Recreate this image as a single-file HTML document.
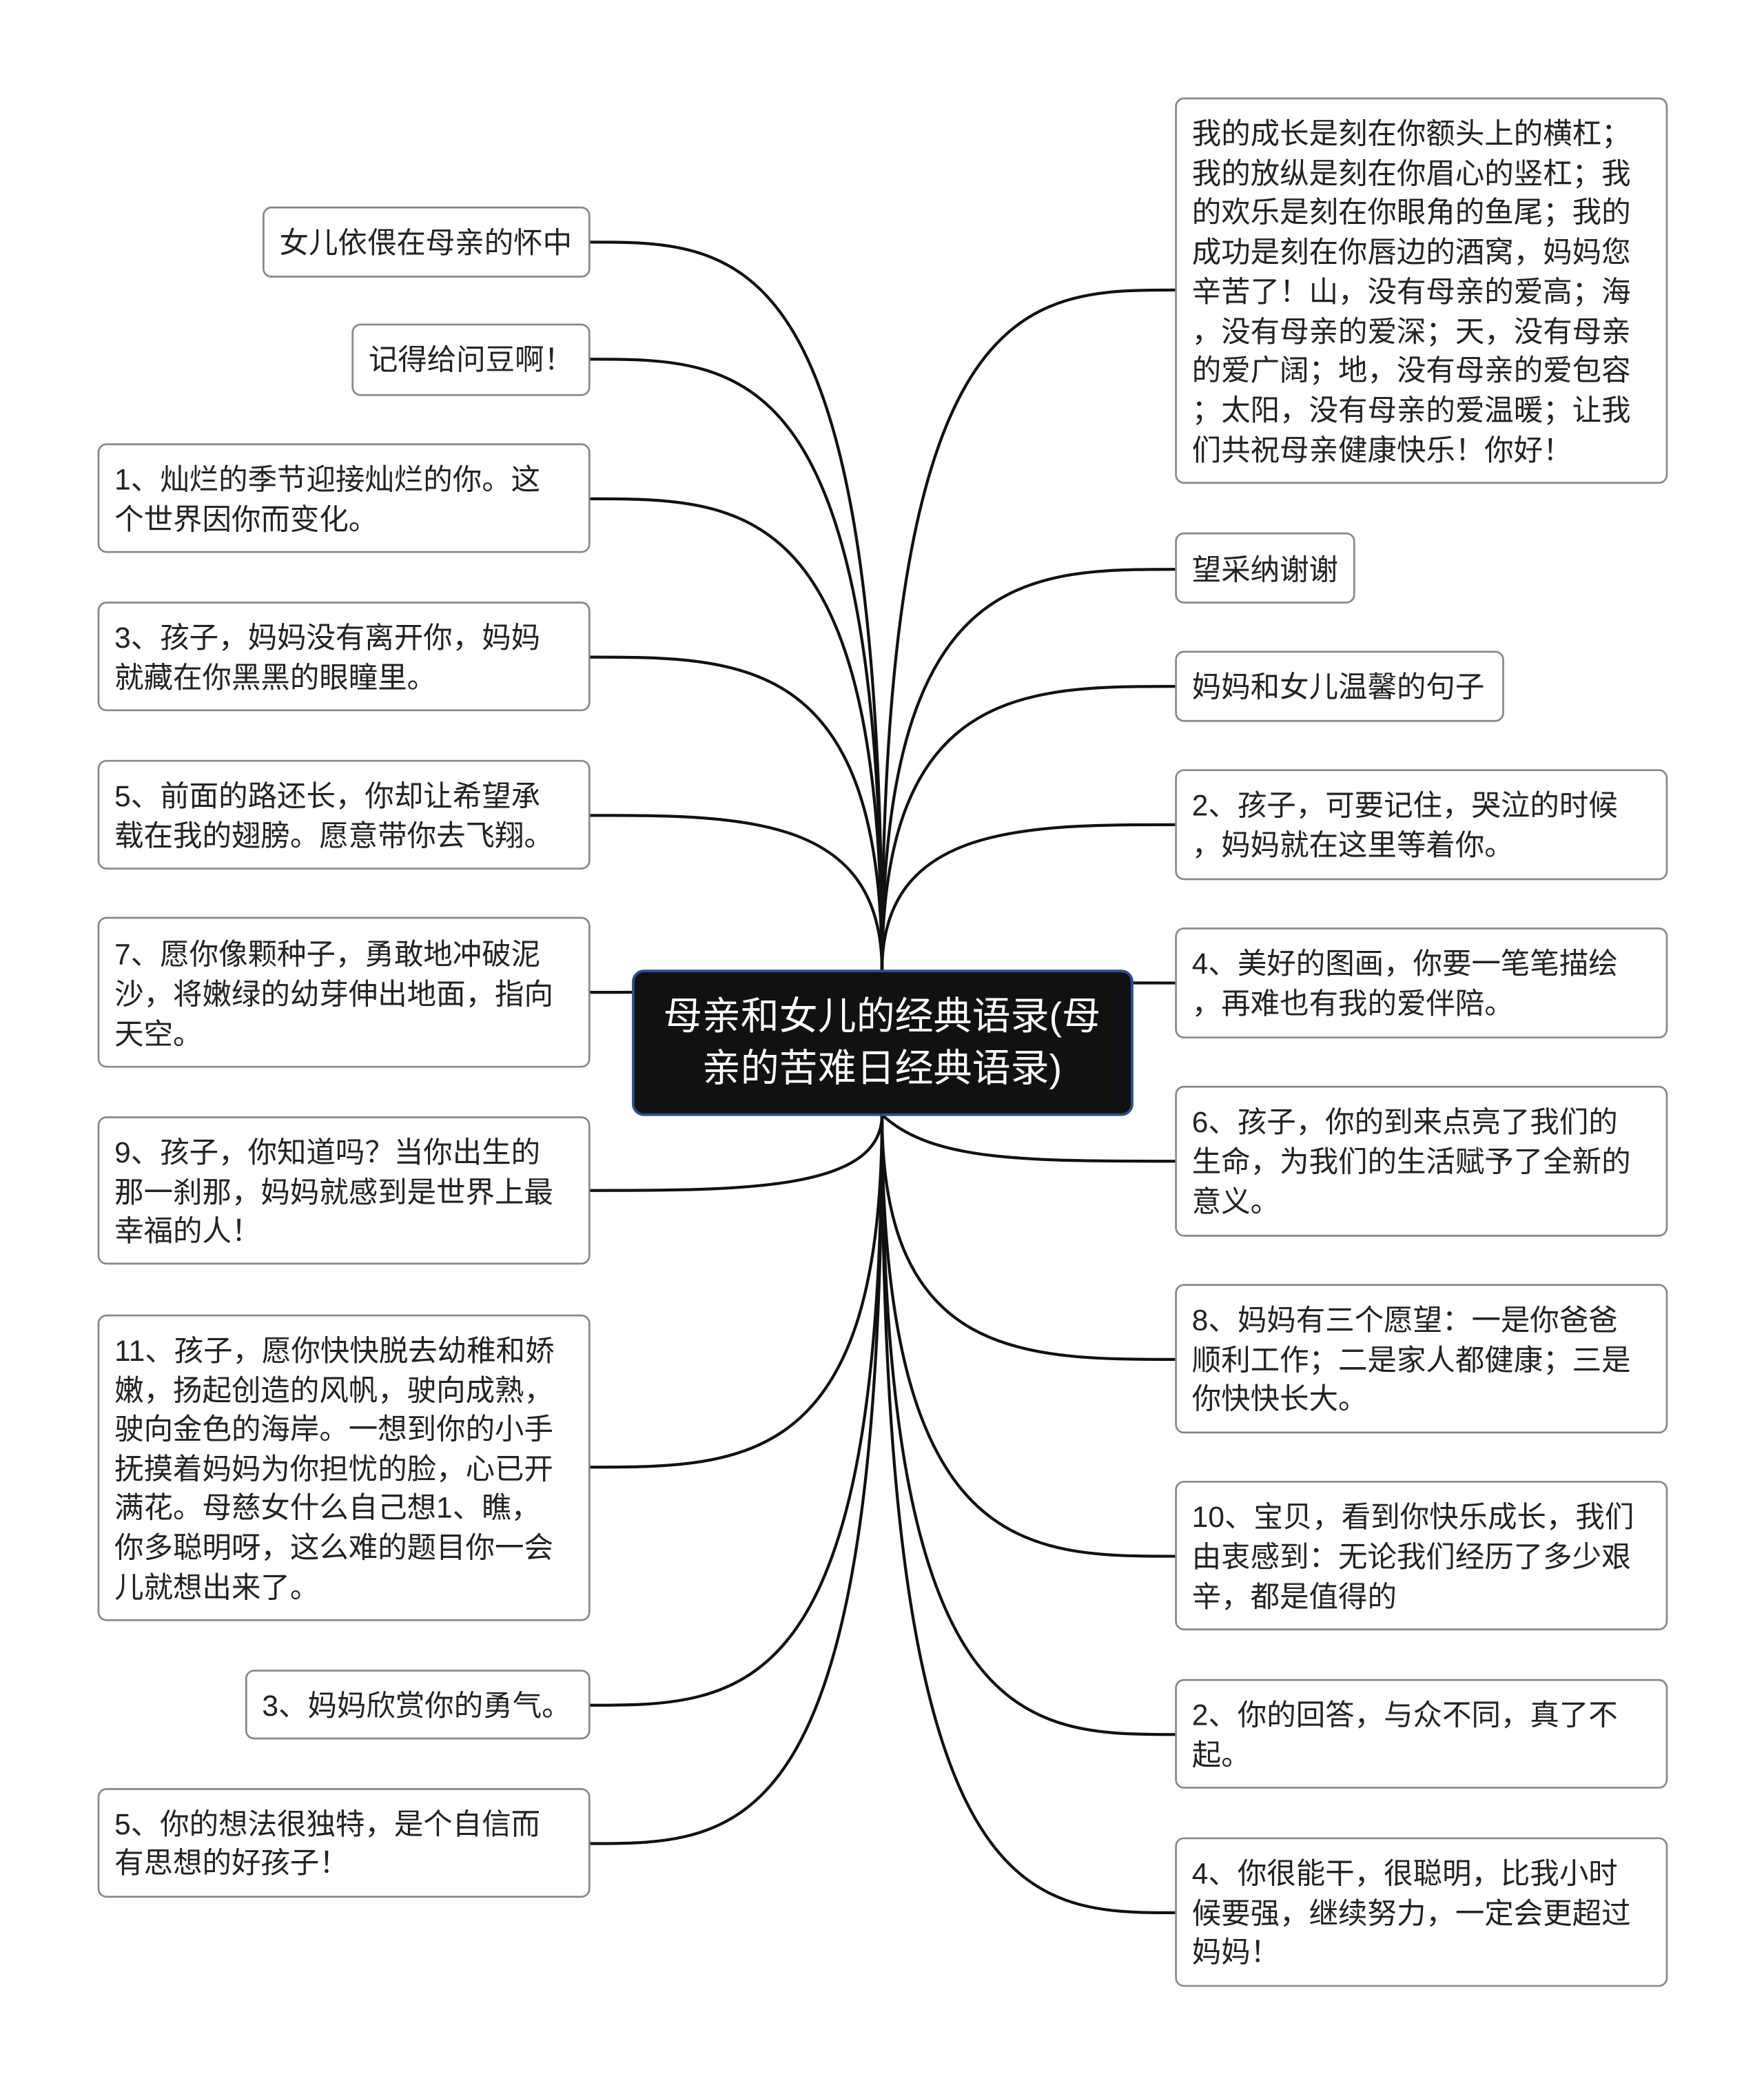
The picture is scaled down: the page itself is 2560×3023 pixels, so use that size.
<!DOCTYPE html>
<html><head><meta charset="utf-8"><style>
html,body{margin:0;padding:0;background:#fff}
svg{display:block}
text{font-family:"Liberation Sans","Noto Sans CJK SC",sans-serif;font-size:22px;fill:#222}
.c{fill:#fff;font-size:29px}
</style></head><body>
<svg width="2560" height="3023" viewBox="0 0 1326 1566" xmlns="http://www.w3.org/2000/svg">
<g fill="none" stroke="#111" stroke-width="2.2">
<path d="M663,730 C663,182 560,182 443,182"/>
<path d="M663,730 C663,270 560,270 443,270"/>
<path d="M663,730 C663,375 560,375 443,375"/>
<path d="M663,730 C663,494 560,494 443,494"/>
<path d="M663,730 C663,613 560,613 443,613"/>
<path d="M663,740 C640,746 560,746 443,746"/>
<path d="M663,838 C663,895 560,895 443,895"/>
<path d="M663,838 C663,1103 560,1103 443,1103"/>
<path d="M663,838 C663,1282 560,1282 443,1282"/>
<path d="M663,838 C663,1386 560,1386 443,1386"/>
<path d="M663,730 C663,218 770,218 884,218"/>
<path d="M663,730 C663,428 770,428 884,428"/>
<path d="M663,730 C663,516 770,516 884,516"/>
<path d="M663,730 C663,620 770,620 884,620"/>
<path d="M663,730 C680,739 770,739 884,739"/>
<path d="M663,838 C700,873 770,873 884,873"/>
<path d="M663,838 C663,1022 770,1022 884,1022"/>
<path d="M663,838 C663,1170 770,1170 884,1170"/>
<path d="M663,838 C663,1304 770,1304 884,1304"/>
<path d="M663,838 C663,1438 770,1438 884,1438"/>
</g>
<g fill="#fff" stroke="#888" stroke-width="1.4">
<rect x="198" y="156" width="245" height="52" rx="6"/>
<rect x="265" y="244" width="178" height="53" rx="6"/>
<rect x="74" y="334" width="369" height="81" rx="6"/>
<rect x="74" y="453" width="369" height="81" rx="6"/>
<rect x="74" y="572" width="369" height="81" rx="6"/>
<rect x="74" y="690" width="369" height="112" rx="6"/>
<rect x="74" y="840" width="369" height="110" rx="6"/>
<rect x="74" y="989" width="369" height="229" rx="6"/>
<rect x="185" y="1256" width="258" height="51" rx="6"/>
<rect x="74" y="1345" width="369" height="81" rx="6"/>
<rect x="884" y="74" width="369" height="289" rx="6"/>
<rect x="884" y="401" width="134" height="52" rx="6"/>
<rect x="884" y="490" width="246" height="52" rx="6"/>
<rect x="884" y="579" width="369" height="82" rx="6"/>
<rect x="884" y="698" width="369" height="82" rx="6"/>
<rect x="884" y="817" width="369" height="112" rx="6"/>
<rect x="884" y="966" width="369" height="111" rx="6"/>
<rect x="884" y="1114" width="369" height="111" rx="6"/>
<rect x="884" y="1263" width="369" height="81" rx="6"/>
<rect x="884" y="1382" width="369" height="111" rx="6"/>
</g>
<rect x="476" y="730" width="375" height="108" rx="8" fill="#111" stroke="#2a4d8f" stroke-width="2"/>
<text class="c" x="663" y="774" text-anchor="middle">母亲和女儿的经典语录(母</text>
<text class="c" x="663" y="813" text-anchor="middle">亲的苦难日经典语录)</text>
<g>
<text x="210" y="190">女儿依偎在母亲的怀中</text>
<text x="277" y="278">记得给问豆啊！</text>
<text x="86" y="368">1、灿烂的季节迎接灿烂的你。这</text>
<text x="86" y="398">个世界因你而变化。</text>
<text x="86" y="487">3、孩子，妈妈没有离开你，妈妈</text>
<text x="86" y="517">就藏在你黑黑的眼瞳里。</text>
<text x="86" y="606">5、前面的路还长，你却让希望承</text>
<text x="86" y="636">载在我的翅膀。愿意带你去飞翔。</text>
<text x="86" y="725">7、愿你像颗种子，勇敢地冲破泥</text>
<text x="86" y="755">沙，将嫩绿的幼芽伸出地面，指向</text>
<text x="86" y="785">天空。</text>
<text x="86" y="874">9、孩子，你知道吗？当你出生的</text>
<text x="86" y="904">那一刹那，妈妈就感到是世界上最</text>
<text x="86" y="933">幸福的人！</text>
<text x="86" y="1023">11、孩子，愿你快快脱去幼稚和娇</text>
<text x="86" y="1053">嫩，扬起创造的风帆，驶向成熟，</text>
<text x="86" y="1082">驶向金色的海岸。一想到你的小手</text>
<text x="86" y="1112">抚摸着妈妈为你担忧的脸，心已开</text>
<text x="86" y="1141">满花。母慈女什么自己想1、瞧，</text>
<text x="86" y="1171">你多聪明呀，这么难的题目你一会</text>
<text x="86" y="1201">儿就想出来了。</text>
<text x="197" y="1290">3、妈妈欣赏你的勇气。</text>
<text x="86" y="1379">5、你的想法很独特，是个自信而</text>
<text x="86" y="1408">有思想的好孩子！</text>
<text x="896" y="108">我的成长是刻在你额头上的横杠；</text>
<text x="896" y="138">我的放纵是刻在你眉心的竖杠；我</text>
<text x="896" y="167">的欢乐是刻在你眼角的鱼尾；我的</text>
<text x="896" y="197">成功是刻在你唇边的酒窝，妈妈您</text>
<text x="896" y="227">辛苦了！山，没有母亲的爱高；海</text>
<text x="896" y="257">，没有母亲的爱深；天，没有母亲</text>
<text x="896" y="286">的爱广阔；地，没有母亲的爱包容</text>
<text x="896" y="316">；太阳，没有母亲的爱温暖；让我</text>
<text x="896" y="346">们共祝母亲健康快乐！你好！</text>
<text x="896" y="436">望采纳谢谢</text>
<text x="896" y="524">妈妈和女儿温馨的句子</text>
<text x="896" y="613">2、孩子，可要记住，哭泣的时候</text>
<text x="896" y="643">，妈妈就在这里等着你。</text>
<text x="896" y="732">4、美好的图画，你要一笔笔描绘</text>
<text x="896" y="762">，再难也有我的爱伴陪。</text>
<text x="896" y="851">6、孩子，你的到来点亮了我们的</text>
<text x="896" y="881">生命，为我们的生活赋予了全新的</text>
<text x="896" y="911">意义。</text>
<text x="896" y="1000">8、妈妈有三个愿望：一是你爸爸</text>
<text x="896" y="1030">顺利工作；二是家人都健康；三是</text>
<text x="896" y="1059">你快快长大。</text>
<text x="896" y="1148">10、宝贝，看到你快乐成长，我们</text>
<text x="896" y="1178">由衷感到：无论我们经历了多少艰</text>
<text x="896" y="1208">辛，都是值得的</text>
<text x="896" y="1297">2、你的回答，与众不同，真了不</text>
<text x="896" y="1327">起。</text>
<text x="896" y="1416">4、你很能干，很聪明，比我小时</text>
<text x="896" y="1446">候要强，继续努力，一定会更超过</text>
<text x="896" y="1475">妈妈！</text>
</g>
</svg>
</body></html>
